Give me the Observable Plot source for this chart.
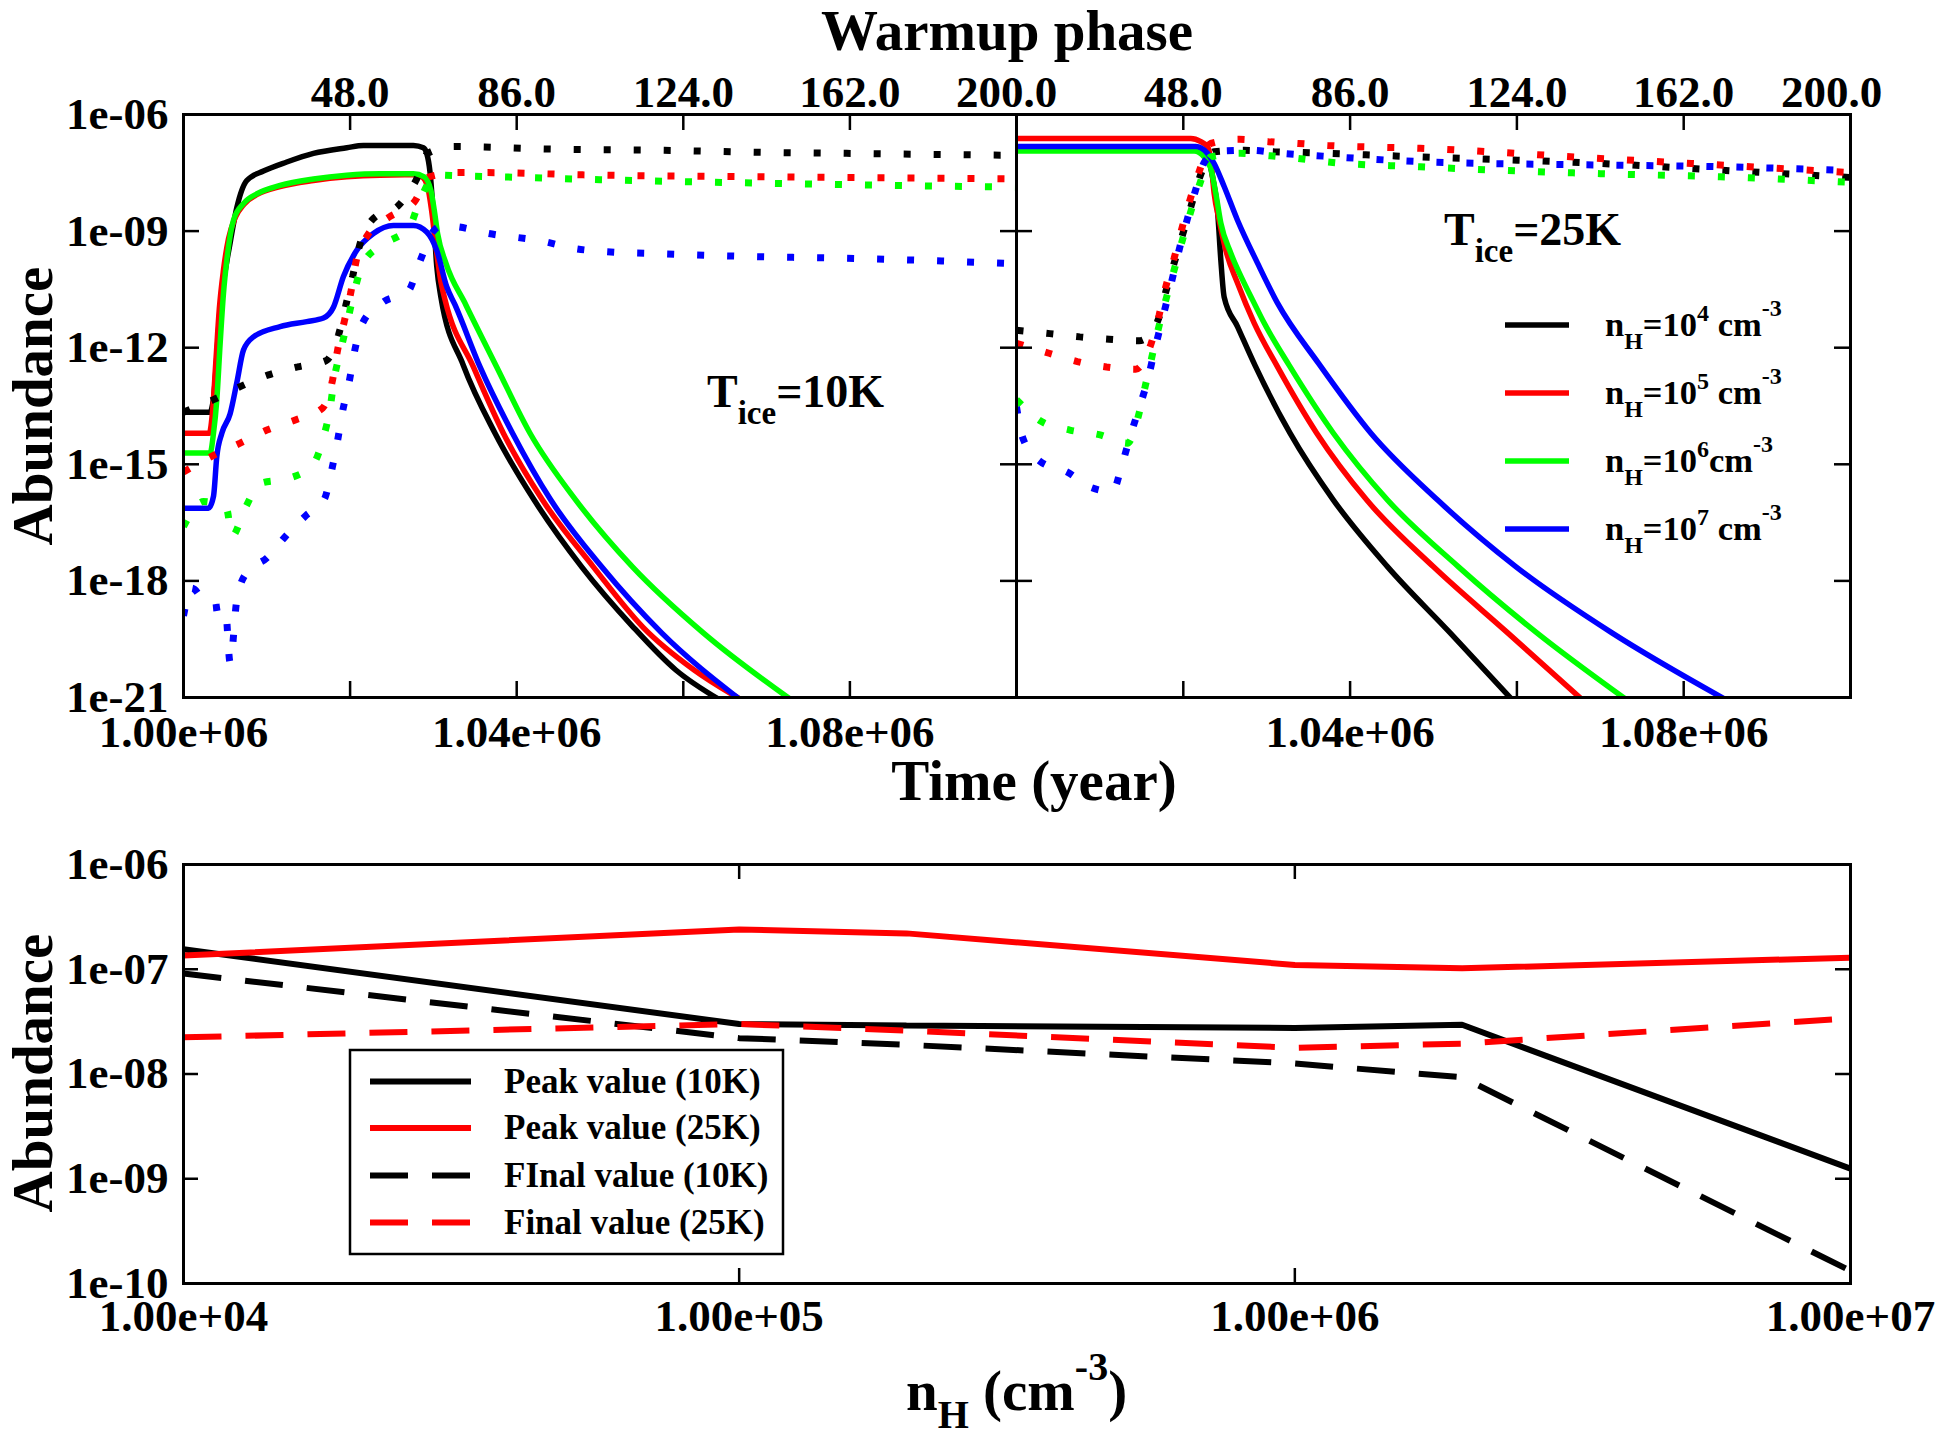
<!DOCTYPE html>
<html><head><meta charset="utf-8">
<script src="https://cdn.jsdelivr.net/npm/d3@7"></script>
<script src="https://cdn.jsdelivr.net/npm/@observablehq/plot@0.6"></script>
<style>
html,body{margin:0;padding:0;background:#fff;}
#page{position:relative;width:1940px;height:1438px;background:#fff;overflow:hidden;font-family:"Liberation Serif","Times New Roman",serif;font-weight:bold;}
#page .panel{position:absolute;}
#page svg{overflow:visible;}
</style></head><body><div id="page"></div>
<script>
// ===================== DATA =====================
// Top panels: [time (yr), abundance]; solid = gas phase, dotted = ice
// T_ice = 10 K
const ice10_solid_nH1e4 = [[1000000,2.2e-14],[1003200,2.2e-14],[1003600,5.0e-14],[1004400,1.0e-11],[1005600,5.0e-10],[1006400,4.0e-9],[1007600,2.0e-8],[1009600,3.5e-8],[1012400,6.0e-8],[1015600,1.0e-7],[1019600,1.4e-7],[1021600,1.6e-7],[1027600,1.6e-7],[1028800,1.4e-7],[1029200,1.0e-7],[1029600,3.2e-8],[1030000,2.5e-9],[1030400,1.26e-10],[1030900,2.0e-11],[1033600,3.5e-13],[1037400,6.3e-15],[1042100,1.2e-16],[1047800,2.3e-18],[1053900,6.8e-20],[1059100,5.1e-21],[1064300,8.9e-22]];
const ice10_solid_nH1e5 = [[1000000,6.3e-15],[1003100,6.3e-15],[1003500,2.5e-14],[1003900,5.0e-13],[1004300,1.0e-11],[1004800,1.0e-10],[1005400,6.3e-10],[1006200,2.2e-9],[1007300,5.0e-9],[1008900,8.9e-9],[1011600,1.4e-8],[1015600,2.0e-8],[1019600,2.5e-8],[1023600,2.75e-8],[1027600,2.8e-8],[1028600,2.5e-8],[1029300,1.4e-8],[1029800,3.2e-9],[1030300,4.0e-10],[1030900,5.0e-11],[1031400,1.7e-11],[1034800,3.2e-13],[1038400,6.3e-15],[1043100,1.2e-16],[1049200,2.3e-18],[1055200,6.3e-20],[1061300,5.1e-21],[1066900,8.9e-22]];
const ice10_solid_nH1e6 = [[1000000,1.95e-15],[1003200,1.95e-15],[1003600,6.3e-15],[1004000,4.6e-14],[1004400,1.3e-12],[1004800,2.5e-11],[1005200,1.8e-10],[1006000,1.9e-9],[1007200,5.1e-9],[1008900,9.3e-9],[1011600,1.5e-8],[1015600,2.2e-8],[1019600,2.75e-8],[1023600,3.0e-8],[1027600,3.0e-8],[1028900,2.5e-8],[1029700,1.1e-8],[1030100,3.5e-9],[1030500,8.7e-10],[1031500,1.5e-10],[1033900,1.26e-11],[1037600,3.2e-13],[1041600,6.3e-15],[1047100,1.2e-16],[1053900,2.3e-18],[1062400,4.6e-20],[1072900,8.9e-22]];
const ice10_solid_nH1e7 = [[1000000,7.4e-17],[1003000,7.4e-17],[1003600,1.5e-16],[1004000,1.6e-15],[1004600,6.3e-15],[1005600,2.0e-14],[1006400,1.26e-13],[1007200,8.7e-13],[1008400,1.9e-12],[1011600,3.5e-12],[1014800,4.7e-12],[1016800,5.8e-12],[1018000,1.1e-11],[1019200,6.8e-11],[1020800,3.2e-10],[1022800,8.7e-10],[1025200,1.4e-9],[1027600,1.4e-9],[1029200,9.5e-10],[1030400,3.2e-10],[1031600,3.7e-11],[1032600,1.26e-11],[1035600,3.2e-13],[1039500,6.3e-15],[1044100,1.2e-16],[1050200,2.3e-18],[1057400,4.6e-20],[1066800,8.9e-22]];
const ice10_dotted_nH1e4 = [[1000000,2.2e-14],[1003600,4.6e-14],[1006800,1.0e-13],[1010200,2.0e-13],[1013700,3.2e-13],[1017100,4.6e-13],[1018600,2.1e-12],[1019500,1.26e-11],[1020300,6.8e-11],[1021100,4.0e-10],[1022700,2.0e-9],[1025900,4.8e-9],[1027900,2.0e-8],[1029300,1.0e-7],[1032500,1.5e-7],[1036100,1.45e-7],[1043300,1.3e-7],[1057700,1.2e-7],[1068600,1.07e-7],[1079600,1.0e-7],[1100000,8.9e-8]];
const ice10_dotted_nH1e5 = [[1000000,6.3e-16],[1003600,1.7e-15],[1006800,3.5e-15],[1010000,7.6e-15],[1013500,1.4e-14],[1016700,2.8e-14],[1017900,1.5e-13],[1018500,8.7e-13],[1019300,4.7e-12],[1020100,2.75e-11],[1020700,1.6e-10],[1022100,7.9e-10],[1024700,2.3e-9],[1027700,5.6e-9],[1029500,2.5e-8],[1032900,3.2e-8],[1036500,3.2e-8],[1048000,2.8e-8],[1070000,2.5e-8],[1100000,2.2e-8]];
const ice10_dotted_nH1e6 = [[1000000,2.5e-17],[1002400,1.1e-16],[1005200,6.8e-17],[1005800,1.4e-17],[1007400,7.4e-17],[1009200,3.2e-16],[1012700,4.4e-16],[1015500,9.5e-16],[1016800,4.9e-15],[1017600,2.8e-14],[1018100,1.6e-13],[1018900,9.1e-13],[1019700,4.9e-12],[1020500,2.75e-11],[1021600,1.55e-10],[1024100,4.7e-10],[1027100,1.26e-9],[1028400,6.3e-9],[1030300,2.75e-8],[1033900,2.6e-8],[1037500,2.5e-8],[1050000,2.1e-8],[1070000,1.7e-8],[1100000,1.35e-8]];
const ice10_dotted_nH1e7 = [[1000000,1.26e-19],[1001000,6.5e-19],[1003200,2.0e-19],[1005000,2.2e-19],[1005600,7.9e-21],[1006400,3.2e-19],[1007600,1.66e-18],[1010000,3.9e-18],[1012300,1.45e-17],[1014700,4.8e-17],[1016900,1.26e-16],[1017800,7.2e-16],[1018500,4.1e-15],[1019100,2.3e-14],[1019900,1.35e-13],[1020500,7.4e-13],[1021500,4.3e-12],[1023900,1.45e-11],[1027000,2.9e-11],[1028300,1.5e-10],[1030000,1.0e-9],[1031000,1.35e-9],[1032700,1.3e-9],[1036600,8.7e-10],[1043300,5.4e-10],[1046800,3.6e-10],[1050700,2.95e-10],[1057700,2.6e-10],[1068600,2.2e-10],[1079600,2.0e-10],[1100000,1.45e-10]];
// T_ice = 25 K
const ice25_solid_nH1e4 = [[1000000,1.35e-7],[1021500,1.35e-7],[1022700,1.12e-7],[1023500,2.5e-8],[1024100,3.5e-9],[1024500,1.8e-10],[1024900,2.0e-11],[1026500,3.5e-12],[1028600,3.5e-13],[1032800,6.3e-15],[1038000,1.2e-16],[1044500,2.3e-18],[1052000,4.6e-20],[1059400,8.9e-22]];
const ice25_solid_nH1e5 = [[1000000,2.4e-7],[1020900,2.4e-7],[1022100,2.0e-7],[1022900,1.5e-7],[1023300,6.8e-8],[1023700,9.3e-9],[1024300,1.9e-9],[1025100,3.2e-10],[1026500,4.6e-11],[1028500,4.3e-12],[1031300,3.2e-13],[1036000,6.3e-15],[1042000,1.2e-16],[1050000,2.3e-18],[1058900,4.6e-20],[1067800,8.9e-22]];
const ice25_solid_nH1e6 = [[1000000,1.15e-7],[1021300,1.15e-7],[1022500,8.1e-8],[1023300,4.1e-8],[1023900,9.3e-9],[1024500,1.6e-9],[1025700,2.7e-10],[1027300,4.6e-11],[1028300,1.7e-11],[1029700,4.3e-12],[1032700,3.5e-13],[1038000,6.3e-15],[1044500,1.2e-16],[1053000,2.3e-18],[1062400,4.6e-20],[1073100,8.9e-22]];
const ice25_solid_nH1e7 = [[1000000,1.5e-7],[1021500,1.5e-7],[1022900,1.0e-7],[1023700,5.5e-8],[1024900,1.4e-8],[1026500,1.9e-9],[1028900,1.5e-10],[1031300,1.4e-11],[1036200,4.0e-13],[1042500,6.3e-15],[1050500,1.2e-16],[1059900,2.3e-18],[1071400,4.6e-20],[1085000,8.9e-22]];
const ice25_dotted_nH1e4 = [[1000000,2.8e-12],[1004000,2.3e-12],[1007600,1.9e-12],[1011100,1.66e-12],[1014700,1.5e-12],[1016900,4.7e-12],[1017900,2.75e-11],[1018900,1.5e-10],[1019900,7.9e-10],[1020900,4.2e-9],[1021900,2.2e-8],[1023700,1.1e-7],[1027300,1.2e-7],[1030900,1.1e-7],[1034400,1.05e-7],[1048400,8.1e-8],[1070000,5.5e-8],[1084400,3.7e-8],[1100000,2.4e-8]];
const ice25_dotted_nH1e5 = [[1000000,1.3e-12],[1003900,7.2e-13],[1007300,4.4e-13],[1010800,3.2e-13],[1014300,2.8e-13],[1016100,1.2e-12],[1017100,6.9e-12],[1017900,3.7e-11],[1018900,2.0e-10],[1019800,1.1e-9],[1020800,6.3e-9],[1021900,3.4e-8],[1023300,1.8e-7],[1026700,2.3e-7],[1030200,2.0e-7],[1033800,1.8e-7],[1037300,1.6e-7],[1048400,1.35e-7],[1070000,7.4e-8],[1084400,5.0e-8],[1100000,3.2e-8]];
const ice25_dotted_nH1e6 = [[1000000,4.6e-14],[1003000,1.26e-14],[1006400,7.6e-15],[1009900,5.8e-15],[1013300,3.5e-15],[1014600,1.7e-14],[1015400,9.5e-14],[1016200,5.4e-13],[1017000,3.0e-12],[1018900,1.0e-10],[1020900,3.2e-9],[1022000,1.7e-8],[1023300,8.1e-8],[1026800,1.0e-7],[1030300,8.7e-8],[1033800,7.4e-8],[1037300,6.0e-8],[1048400,4.5e-8],[1070000,3.0e-8],[1084400,2.5e-8],[1100000,1.8e-8]];
const ice25_dotted_nH1e7 = [[1000000,3.0e-14],[1000700,5.1e-15],[1002800,1.2e-15],[1006100,6.3e-16],[1009000,2.5e-16],[1011500,2.0e-16],[1012700,1.07e-15],[1013700,5.9e-15],[1014800,3.2e-14],[1015800,1.7e-13],[1016600,9.5e-13],[1017500,5.5e-12],[1018600,5.0e-11],[1019600,4.0e-10],[1020600,2.5e-9],[1021600,1.4e-8],[1022600,6.3e-8],[1024600,1.15e-7],[1028100,1.2e-7],[1031800,1.0e-7],[1035300,8.9e-8],[1049500,6.0e-8],[1070700,5.0e-8],[1085100,4.5e-8],[1100000,3.6e-8]];

// Bottom panel
const nHDensities = [1e4, 1e5, 2e5, 1e6, 2e6, 1e7];
const peakValue10K  = [1.55e-7, 3.0e-8, 2.9e-8, 2.75e-8, 2.95e-8, 1.25e-9];
const peakValue25K  = [1.35e-7, 2.4e-7, 2.2e-7, 1.1e-7, 1.02e-7, 1.29e-7];
const finalValue10K = [9.1e-8, 2.2e-8, 1.9e-8, 1.26e-8, 9.3e-9, 1.32e-10];
const finalValue25K = [2.24e-8, 3.0e-8, 2.6e-8, 1.78e-8, 1.95e-8, 3.4e-8];

// Ticks / labels
const densityExponents = [4, 5, 6, 7];
const topYTicks = [1e-6, 1e-9, 1e-12, 1e-15, 1e-18, 1e-21];
const timeTickMarks = [1020000, 1040000, 1060000, 1080000];
const timeLabelsLeft = [1000000, 1040000, 1080000];
const timeLabelsRight = [1040000, 1080000];
const warmupTimes = [1020000, 1040000, 1060000, 1080000, 1100000];
const warmupTemps = [48, 86, 124, 162, 200];
const bottomXTicks = [1e4, 1e5, 1e6, 1e7];
const bottomYTicks = [1e-6, 1e-7, 1e-8, 1e-9, 1e-10];
const legendTopLabels = densityExponents;
const legendBottomLabels = ["Peak value (10K)", "Peak value (25K)", "FInal value (10K)", "Final value (25K)"];

// ===================== STYLE =====================
const COLORS = ["#000000", "#ff0000", "#00ff00", "#0000ff"];
const FONT = '"Liberation Serif","Times New Roman",serif';
const TICK_FONT = 45;
const page = document.getElementById("page");

const sci = d => d3.format(".2e")(d).replace(/e([+-])(\d)$/, "e$10$2");
const yFmt = d => { const e = Math.round(Math.log10(d)); return "1e" + (e < 0 ? "-" : "+") + String(Math.abs(e)).padStart(2, "0"); };
const tempFmt = d => warmupTemps[warmupTimes.indexOf(d)].toFixed(1);
const rows = pairs => pairs.map(([t, a]) => ({t, a}));

function place(el, left, top) {
  const div = document.createElement("div");
  div.className = "panel";
  div.style.left = left + "px";
  div.style.top = top + "px";
  div.appendChild(el);
  page.appendChild(div);
}

const TOP_SVG_TOP = 40, TOP_H = 730, TOP_MT = 74, TOP_MB = 73;
const TOP_INNER_H = TOP_H - TOP_MT - TOP_MB;
const TICK = 16;

function topPanel(solids, dotteds, {width, marginLeft, marginRight, showY, xLabels, lastDx}) {
  const innerW = width - marginLeft - marginRight;
  const marks = [];
  solids.forEach((s, i) => marks.push(Plot.line(rows(s), {x: "t", y: "a", stroke: COLORS[i], strokeWidth: 5.5, curve: "monotone-x", clip: true})));
  dotteds.forEach((s, i) => marks.push(Plot.line(rows(s), {x: "t", y: "a", stroke: COLORS[i], strokeWidth: 7, strokeDasharray: "7,23", strokeLinecap: "butt", strokeLinejoin: "miter", curve: "monotone-x", clip: true})));
  marks.push(
    Plot.tickX(timeTickMarks, {x: d => d, insetBottom: TOP_INNER_H - TICK, stroke: "#000", strokeWidth: 2.5}),
    Plot.tickX(timeTickMarks, {x: d => d, insetTop: TOP_INNER_H - TICK, stroke: "#000", strokeWidth: 2.5}),
    Plot.tickY(topYTicks, {y: d => d, insetRight: innerW - TICK, stroke: "#000", strokeWidth: 2.5}),
    Plot.tickY(topYTicks, {y: d => d, insetLeft: innerW - TICK, stroke: "#000", strokeWidth: 2.5}),
    Plot.frame({stroke: "#000", strokeWidth: 3}),
    Plot.axisX(xLabels, {anchor: "bottom", tickSize: 0, tickPadding: 18, tickFormat: sci, fontSize: TICK_FONT, label: null}),
    Plot.axisX(warmupTimes.slice(0, 4), {anchor: "top", tickSize: 0, tickPadding: 8, tickFormat: tempFmt, fontSize: TICK_FONT, label: null}),
    Plot.axisX(warmupTimes.slice(4), {anchor: "top", tickSize: 0, tickPadding: 8, tickFormat: tempFmt, fontSize: TICK_FONT, label: null, dx: lastDx})
  );
  if (showY) marks.push(Plot.axisY(topYTicks, {anchor: "left", tickSize: 0, tickPadding: 15, tickFormat: yFmt, fontSize: TICK_FONT, label: null}));
  return Plot.plot({
    width, height: TOP_H, marginLeft, marginRight, marginTop: TOP_MT, marginBottom: TOP_MB,
    x: {type: "linear", domain: [1000000, 1100000], axis: null, label: null},
    y: {type: "log", domain: [1e-21, 1e-6], axis: null, label: null},
    style: {fontFamily: FONT, fontWeight: "bold", fontSize: TICK_FONT + "px", background: "transparent", overflow: "visible", color: "#000"},
    marks
  });
}

place(topPanel(
  [ice10_solid_nH1e4, ice10_solid_nH1e5, ice10_solid_nH1e6, ice10_solid_nH1e7],
  [ice10_dotted_nH1e4, ice10_dotted_nH1e5, ice10_dotted_nH1e6, ice10_dotted_nH1e7],
  {width: 1016, marginLeft: 183, marginRight: 0, showY: true, xLabels: timeLabelsLeft, lastDx: -10}
), 0, TOP_SVG_TOP);

place(topPanel(
  [ice25_solid_nH1e4, ice25_solid_nH1e5, ice25_solid_nH1e6, ice25_solid_nH1e7],
  [ice25_dotted_nH1e4, ice25_dotted_nH1e5, ice25_dotted_nH1e6, ice25_dotted_nH1e7],
  {width: 924, marginLeft: 0, marginRight: 90, showY: false, xLabels: timeLabelsRight, lastDx: -19}
), 1016, TOP_SVG_TOP);

// Bottom panel
const BOT_TOP = 820, BOT_H = 618, BOT_MT = 44, BOT_MB = 155, BOT_ML = 183, BOT_MR = 90;
const BOT_INNER_H = BOT_H - BOT_MT - BOT_MB, BOT_INNER_W = 1940 - BOT_ML - BOT_MR;
const BTICK = 15;
const bottomSeries = [
  {values: peakValue10K, color: COLORS[0], dash: null},
  {values: peakValue25K, color: COLORS[1], dash: null},
  {values: finalValue10K, color: COLORS[0], dash: "38,24"},
  {values: finalValue25K, color: COLORS[1], dash: "38,24"}
];
const bottomPlot = Plot.plot({
  width: 1940, height: BOT_H, marginLeft: BOT_ML, marginRight: BOT_MR, marginTop: BOT_MT, marginBottom: BOT_MB,
  x: {type: "log", domain: [1e4, 1e7], axis: null, label: null},
  y: {type: "log", domain: [1e-10, 1e-6], axis: null, label: null},
  style: {fontFamily: FONT, fontWeight: "bold", fontSize: TICK_FONT + "px", background: "transparent", overflow: "visible", color: "#000"},
  marks: [
    ...bottomSeries.map(s => Plot.line(nHDensities.map((n, i) => ({n, v: s.values[i]})), {x: "n", y: "v", stroke: s.color, strokeWidth: 6, strokeDasharray: s.dash, strokeLinecap: "butt", strokeLinejoin: "miter", clip: true})),
    Plot.tickX(bottomXTicks.slice(1, 3), {x: d => d, insetBottom: BOT_INNER_H - BTICK, stroke: "#000", strokeWidth: 2.5}),
    Plot.tickX(bottomXTicks.slice(1, 3), {x: d => d, insetTop: BOT_INNER_H - BTICK, stroke: "#000", strokeWidth: 2.5}),
    Plot.tickY(bottomYTicks.slice(1, 4), {y: d => d, insetRight: BOT_INNER_W - BTICK, stroke: "#000", strokeWidth: 2.5}),
    Plot.tickY(bottomYTicks.slice(1, 4), {y: d => d, insetLeft: BOT_INNER_W - BTICK, stroke: "#000", strokeWidth: 2.5}),
    Plot.frame({stroke: "#000", strokeWidth: 3}),
    Plot.axisX(bottomXTicks, {anchor: "bottom", tickSize: 0, tickPadding: 16, tickFormat: sci, fontSize: TICK_FONT, label: null}),
    Plot.axisY(bottomYTicks, {anchor: "left", tickSize: 0, tickPadding: 15, tickFormat: yFmt, fontSize: TICK_FONT, label: null})
  ]
});
place(bottomPlot, 0, BOT_TOP);

// ===================== OVERLAY TEXT / LEGENDS =====================
const ov = d3.select(page).append("svg")
  .attr("width", 1940).attr("height", 1438)
  .style("position", "absolute").style("left", "0px").style("top", "0px")
  .style("font-family", FONT).style("font-weight", "bold").style("pointer-events", "none");

function rich(x, y, size, anchor, parts) {
  const t = ov.append("text").attr("x", x).attr("y", y).attr("font-size", size).attr("text-anchor", anchor).attr("fill", "#000");
  for (const p of parts) {
    const ts = t.append("tspan").text(p.text);
    if (p.size) ts.attr("font-size", p.size);
    if (p.dy) ts.attr("dy", p.dy);
  }
  return t;
}

rich(1007, 50, 57, "middle", [{text: "Warmup phase"}]);
rich(1034, 800, 57, "middle", [{text: "Time (year)"}]);
ov.append("text").attr("transform", "translate(52,406) rotate(-90)").attr("text-anchor", "middle").attr("font-size", 57).text("Abundance");
ov.append("text").attr("transform", "translate(52,1073) rotate(-90)").attr("text-anchor", "middle").attr("font-size", 57).text("Abundance");
rich(906, 1410, 57, "start", [{text: "n"}, {text: "H", size: 40, dy: 18}, {text: " (cm", dy: -18}, {text: "-3", size: 40, dy: -30}, {text: ")", dy: 30}]);

rich(707, 407, 46, "start", [{text: "T"}, {text: "ice", size: 33, dy: 17}, {text: "=10K", dy: -17}]);
rich(1444, 245, 46, "start", [{text: "T"}, {text: "ice", size: 33, dy: 17}, {text: "=25K", dy: -17}]);

// top legend
const legendYs = [325, 393, 461, 529];
legendTopLabels.forEach((e, i) => {
  const y = legendYs[i];
  ov.append("line").attr("x1", 1505).attr("x2", 1569).attr("y1", y).attr("y2", y).attr("stroke", COLORS[i]).attr("stroke-width", 5.5);
  rich(1605, y + 11, 34.5, "start", [
    {text: "n"}, {text: "H", size: 24, dy: 13}, {text: "=10", dy: -13},
    {text: String(e), size: 24, dy: -15}, {text: e === 6 ? "cm" : " cm", dy: 15},
    {text: "-3", size: 24, dy: -20}
  ]);
});

// bottom legend
ov.append("rect").attr("x", 350).attr("y", 1050).attr("width", 433).attr("height", 204).attr("fill", "#fff").attr("stroke", "#000").attr("stroke-width", 2.5);
const bLegYs = [1081.5, 1128, 1175.5, 1222.5];
bottomSeries.forEach((s, i) => {
  const y = bLegYs[i];
  const ln = ov.append("line").attr("x1", 370).attr("x2", 471).attr("y1", y).attr("y2", y).attr("stroke", s.color).attr("stroke-width", 6);
  if (s.dash) ln.attr("stroke-dasharray", s.dash);
  rich(504, y + 11, 35, "start", [{text: legendBottomLabels[i]}]);
});
</script></body></html>
